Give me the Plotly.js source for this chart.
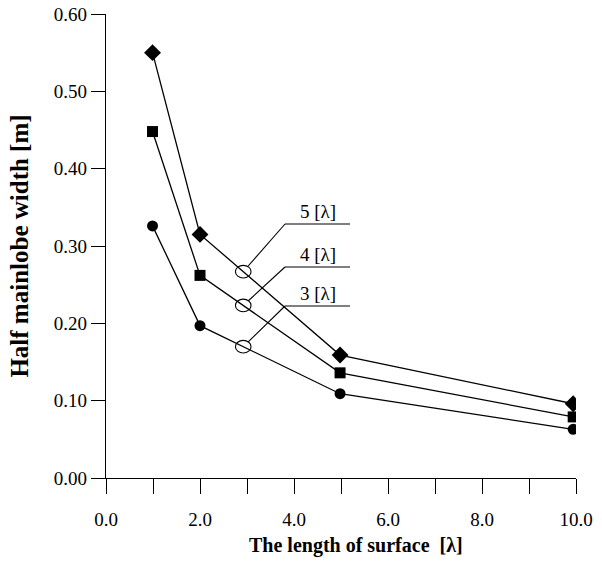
<!DOCTYPE html>
<html>
<head>
<meta charset="utf-8">
<script src="https://cdn.plot.ly/plotly-3.0.1.min.js"></script>
<style>html,body{margin:0;padding:0;background:#fff;}#chart{width:602px;height:579px;}</style>
</head>
<body>
<div id="chart"></div>
<script>
// ---- data ----
var xValues = [0.99, 2.0, 4.98, 9.94];
var series5 = [0.550, 0.315, 0.159, 0.096];
var series4 = [0.448, 0.262, 0.136, 0.079];
var series3 = [0.326, 0.197, 0.109, 0.063];
var seriesLabels = ["5 [\u03bb]", "4 [\u03bb]", "3 [\u03bb]"];
var xTitle = "The length of surface  [\u03bb]";
var yTitle = "Half mainlobe width [m]";

// ---- layout geometry ----
var W = 602, H = 579;
var M = {l: 106, r: 26, t: 14, b: 101};
var X0 = 0, X1 = 10, Y0 = 0, Y1 = 0.6;
var pw = W - M.l - M.r, ph = H - M.t - M.b;
function px2x(px) { return X0 + (px - M.l) / pw * (X1 - X0); }
function py2y(py) { return Y0 + (H - M.b - py) / ph * (Y1 - Y0); }
function x2px(x) { return M.l + (x - X0) / (X1 - X0) * pw; }
function y2py(y) { return H - M.b - (y - Y0) / (Y1 - Y0) * ph; }

function interp(xs, ys, x) {
  for (var i = 0; i < xs.length - 1; i++) {
    if (x >= xs[i] && x <= xs[i + 1]) {
      var t = (x - xs[i]) / (xs[i + 1] - xs[i]);
      return ys[i] + t * (ys[i + 1] - ys[i]);
    }
  }
  return ys[ys.length - 1];
}

var font = "Liberation Serif, Times New Roman, serif";
var symbols = ["diamond", "square", "circle"];
var sizes = [13, 11, 11];
var allSeries = [series5, series4, series3];

var traces = allSeries.map(function (s, i) {
  return {
    x: xValues, y: s, type: "scatter", mode: "lines+markers",
    name: seriesLabels[i],
    line: {color: "black", width: 1.3},
    marker: {symbol: symbols[i], size: sizes[i], color: "black"},
    hoverinfo: "x+y"
  };
});

// callout ellipses and leader lines
var circleX = 2.92;
var kneePx = 285, endPx = 350, textPx = 318;
var levelsPy = [224, 267, 306];
var rxPx = 7.8, ryPx = 6.3;
var shapes = [], annotations = [];
allSeries.forEach(function (s, i) {
  var cy = interp(xValues, s, circleX);
  var cxp = x2px(circleX), cyp = y2py(cy);
  shapes.push({type: "circle", xref: "x", yref: "y",
    x0: px2x(cxp - rxPx), x1: px2x(cxp + rxPx),
    y0: py2y(cyp + ryPx), y1: py2y(cyp - ryPx),
    line: {color: "black", width: 1.1}, fillcolor: "rgba(0,0,0,0)"});
  var ky = levelsPy[i];
  var dx = kneePx - cxp, dy = ky - cyp, L = Math.sqrt(dx * dx + dy * dy);
  var ux = dx / L, uy = dy / L;
  var t = 1 / Math.sqrt((ux * ux) / (rxPx * rxPx) + (uy * uy) / (ryPx * ryPx));
  shapes.push({type: "line", xref: "x", yref: "y",
    x0: px2x(cxp + ux * t), y0: py2y(cyp + uy * t),
    x1: px2x(kneePx), y1: py2y(ky),
    line: {color: "black", width: 1.1}});
  shapes.push({type: "line", xref: "x", yref: "y",
    x0: px2x(kneePx), y0: py2y(ky), x1: px2x(endPx), y1: py2y(ky),
    line: {color: "black", width: 1.1}});
  annotations.push({xref: "x", yref: "y", x: px2x(textPx), y: py2y(ky),
    text: seriesLabels[i], showarrow: false, xanchor: "center", yanchor: "bottom",
    yshift: 0, font: {family: font, size: 19, color: "black"}});
});

// x-axis title placed as a paper annotation (slightly right of centre, as in the reference)
annotations.push({xref: "paper", yref: "paper",
  x: (356 - M.l) / pw, y: (H - M.b - 545) / ph,
  xanchor: "center", yanchor: "middle", showarrow: false,
  text: "<b>" + xTitle + "</b>", font: {family: font, size: 20, color: "black"}});

var layout = {
  width: W, height: H,
  margin: M,
  paper_bgcolor: "white", plot_bgcolor: "white",
  showlegend: false,
  font: {family: font, color: "black"},
  xaxis: {
    range: [X0, X1], dtick: 2, tick0: 0, tickformat: ".1f",
    ticks: "outside", ticklen: 15, tickwidth: 1, tickcolor: "black",
    minor: {dtick: 1, ticks: "outside", ticklen: 15, tickwidth: 1, tickcolor: "black"},
    showline: true, linecolor: "black", linewidth: 1.3,
    showgrid: false, zeroline: false,
    ticklabelstandoff: 9,
    tickfont: {family: font, size: 19, color: "black"}
  },
  yaxis: {
    range: [Y0, Y1], dtick: 0.1, tick0: 0, tickformat: ".2f",
    ticks: "outside", ticklen: 14, tickwidth: 1, tickcolor: "black",
    showline: true, linecolor: "black", linewidth: 1.3,
    showgrid: false, zeroline: false,
    tickfont: {family: font, size: 19, color: "black"},
    title: {text: "<b>" + yTitle + "</b>", font: {family: font, size: 25, color: "black"}, standoff: 18}
  },
  shapes: shapes,
  annotations: annotations
};

Plotly.newPlot("chart", traces, layout, {displayModeBar: false, staticPlot: true});
</script>
</body>
</html>
